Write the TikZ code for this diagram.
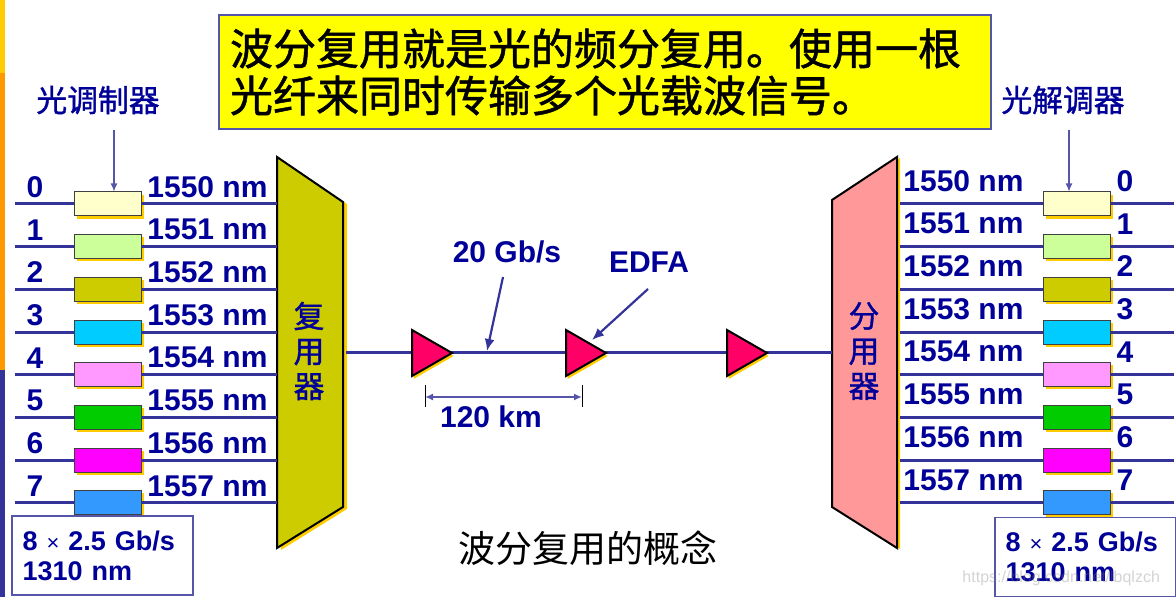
\documentclass[tikz,border=0pt]{standalone}
\usepackage{fontspec}
\setmainfont{Liberation Sans}
\newfontfamily\cjk{Noto Sans CJK SC}
\newfontfamily\cjkb{Noto Sans CJK SC}[FakeBold=1.2]
\usepackage{xcolor}
\usepackage{tikz}
\usetikzlibrary{arrows.meta}
\usetikzlibrary{shadows, positioning}

\definecolor{blu}{HTML}{000099}
\definecolor{fibracol}{HTML}{333399}
\definecolor{sottile}{HTML}{5555AA}
\definecolor{oro}{HTML}{FFCC00}
\definecolor{arancio}{HTML}{FF9900}
\definecolor{giallo}{HTML}{FFFF00}
\definecolor{muxcol}{HTML}{CCCC00}
\definecolor{demuxcol}{HTML}{FF9999}
\definecolor{ampcol}{HTML}{FF0066}
\definecolor{ch0}{HTML}{FFFFCC}
\definecolor{ch1}{HTML}{CCFF99}
\definecolor{ch2}{HTML}{CCCC00}
\definecolor{ch3}{HTML}{00CCFF}
\definecolor{ch4}{HTML}{FF99FF}
\definecolor{ch5}{HTML}{00CC00}
\definecolor{ch6}{HTML}{FF00FF}
\definecolor{ch7}{HTML}{3399FF}

\tikzset{
  fibra/.style={draw=fibracol, line width=1.5pt},
  freccina/.style={draw=sottile, line width=0.6pt, -{Latex[length=4pt,width=3.5pt]}},
  freccia/.style={draw=fibracol, line width=1.1pt, -{Latex[length=6pt,width=5pt]}},
  ombra/.style={drop shadow={shadow xshift=#1, shadow yshift=-#1, fill=oro, opacity=1}},
  modulo/.style={draw=black!75, line width=0.5pt, minimum width=33.5pt,
    minimum height=12pt, inner sep=0pt, ombra=1.3pt},
  etich/.style={text=blu, font=\fontsize{15}{18}\selectfont\bfseries, inner sep=0pt},
  etichcjk/.style={text=blu, font=\cjkb\fontsize{15.4}{17.5}\selectfont, inner sep=0pt},
  ampli/.style={fill=ampcol, draw=black, line width=1pt, line join=miter,
    drop shadow={shadow xshift=0.8pt, shadow yshift=-1.5pt, fill=oro, opacity=1}},
  infobox/.style={draw=sottile, line width=0.6pt, minimum width=90.5pt,
    minimum height=39.5pt, text width=80pt, inner xsep=5pt, align=left,
    text=blu, font=\fontsize{13.5}{15}\selectfont\bfseries},
}

\begin{document}
\begin{tikzpicture}[x=0.5pt, y=-0.5pt]
  \useasboundingbox (0,0) rectangle (1176,597);

  % barra laterale
  \fill[oro] (0,0) rectangle (4.5,73);
  \fill[arancio] (0,73) rectangle (4.5,370);
  \fill[fibracol] (0,370) rectangle (4.5,597);

  % riquadro giallo
  \node[draw=sottile, line width=0.6pt, fill=giallo, minimum width=386pt,
    minimum height=57pt, text width=375pt, inner xsep=5.5pt, align=left,
    font=\cjkb\fontsize{21.5}{23.5}\selectfont] (nota) at (605,72)
    {波分复用就是光的频分复用。使用一根\\光纤来同时传输多个光载波信号。};

  % multiplexer e demultiplexer
  \filldraw[fill=muxcol, draw=black, line width=1pt,
    drop shadow={shadow xshift=2pt, shadow yshift=-1pt, fill=oro, opacity=1}]
    (277,157) -- (343,202) -- (343,507) -- (277,548) -- cycle;
  \node[etichcjk, align=center] (mux) at (309,351) {复\\用\\器};
  \filldraw[fill=demuxcol, draw=black, line width=1pt,
    drop shadow={shadow xshift=1.5pt, shadow yshift=-0.5pt, fill=oro, opacity=1}]
    (832,200) -- (897,157) -- (897,548) -- (832,507) -- cycle;
  \node[etichcjk, align=center] (demux) at (864,351) {分\\用\\器};

  % canali lato trasmettitore
  \foreach \i/\lam in {0/1550,1/1551,2/1552,3/1553,4/1554,5/1555,6/1556,7/1557} {
    \pgfmathsetmacro\yy{204+42.7*\i}
    \coordinate (in\i) at (15,\yy);
    \coordinate (mx\i) at (277,\yy);
    \node[modulo, fill=ch\i] (mod\i) at (108,\yy) {};
    \draw[fibra] (in\i) -- (mod\i);
    \draw[fibra] (mod\i) -- (mx\i);
    \node[etich] (num\i) at (35,\yy-17) {\i};
    \node[etich, anchor=west] (lam\i) at (147,\yy-17) {\lam\ nm};
  }

  % canali lato ricevitore
  \foreach \i/\lam in {0/1550,1/1551,2/1552,3/1553,4/1554,5/1555,6/1556,7/1557} {
    \pgfmathsetmacro\yy{204+42.7*\i}
    \coordinate (dx\i) at (900,\yy);
    \coordinate (out\i) at (1174,\yy);
    \node[modulo, fill=ch\i] (dem\i) at (1076.5,\yy) {};
    \draw[fibra] (dx\i) -- (dem\i);
    \draw[fibra] (dem\i) -- (out\i);
    \node[etich] (rnum\i) at (1125,\yy-23) {\i};
    \node[etich, anchor=west] (rlam\i) at (903,\yy-23) {\lam\ nm};
  }

  % modulatori / demodulatori
  \node[etichcjk] (modtxt) at (98,100) {光调制器};
  \coordinate (pmod) at (114,130);
  \draw[freccina] (pmod) -- (pmod |- mod0.north);
  \node[etichcjk] (demtxt) at (1063,100) {光解调器};
  \coordinate (pdem) at (1069,130);
  \draw[freccina] (pdem) -- (pdem |- dem0.north);

  % fibra con amplificatori
  \coordinate (muxE) at (346,353);
  \coordinate (demW) at (832,353);
  \draw[fibra] (muxE) -- (demW);
  \foreach \x [count=\k] in {412,566,727} {
    \filldraw[ampli] (\x,330) -- (\x+40,353) -- (\x,376) -- cycle;
  }

  \node[etich] (rate) at (507,252) {20 Gb/s};
  \coordinate (prate) at (503,277);
  \coordinate (pfib) at (487,351);
  \draw[freccia] (prate) -- (pfib);
  \node[etich] (edfa) at (649,262) {EDFA};
  \coordinate (pedfa) at (648,289);
  \coordinate (amp2) at (592,340);
  \draw[freccia] (pedfa) -- (amp2);

  % distanza
  \coordinate (d1) at (425,397);
  \coordinate (d2) at (582,397);
  \draw[black, line width=0.5pt] ([yshift=6pt]d1) -- ([yshift=-5pt]d1);
  \draw[black, line width=0.5pt] ([yshift=6pt]d2) -- ([yshift=-5pt]d2);
  \draw[sottile, line width=1pt, {Latex[length=4pt,width=3.5pt]}-{Latex[length=4pt,width=3.5pt]}] (d1) -- (d2);
  \node[etich] (dist) at (491,417) {120 km};

  % riquadri in basso
  \node[infobox] (bitL) at (102.5,555.5) {8 {\mdseries\fontsize{11}{15}\selectfont×} 2.5 Gb/s\\1310 nm};
  \node[infobox] (bitR) at (1085.5,557) {8 {\mdseries\fontsize{11}{15}\selectfont×} 2.5 Gb/s\\1310 nm};

  \node[font=\cjk\fontsize{18.5}{20}\selectfont] (titolo) at (587.5,548) {波分复用的概念};

  \node[text=gray, opacity=0.35, font=\fontsize{8}{9}\selectfont, anchor=east] (wm) at (1167,578)
    {https://blog.csdn.net/lbqlzch};
\end{tikzpicture}
\end{document}
